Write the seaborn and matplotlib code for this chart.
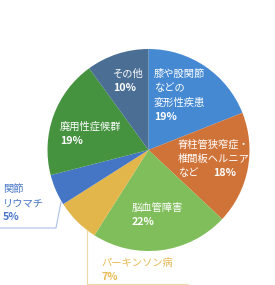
import matplotlib
matplotlib.use("Agg")
import matplotlib.pyplot as plt
import seaborn as sns

categories = ["膝や股関節などの変形性疾患", "脊柱管狭窄症・椎間板ヘルニアなど", "脳血管障害",
              "パーキンソン病", "関節リウマチ", "廃用性症候群", "その他"]
values = [19, 18, 22, 7, 5, 19, 10]
pct_labels = ["19%", "18%", "22%", "7%", "5%", "19%", "10%"]
colors = ["#4589D3", "#D07338", "#80BE5B", "#E3B64B", "#4575C5", "#45923F", "#4A6E94"]

sns.set_theme(style="white")
plt.rcParams['font.family'] = ['Noto Sans CJK JP', 'DejaVu Sans']

W, H = 275, 285
fig = plt.figure(figsize=(W / 100, H / 100), dpi=100)
ax = fig.add_axes([0, 0, 1, 1])
ax.set_xlim(0, W)
ax.set_ylim(0, H)
ax.set_aspect('equal')
ax.axis('off')

ax.pie(values, colors=colors, startangle=90, counterclock=False,
       center=(148.5, H - 150), radius=101,
       wedgeprops=dict(linewidth=0), frame=True)
ax.set_xlim(0, W)
ax.set_ylim(0, H)
ax.axis('off')

FS = 7.4
LS = 14.2

def Y(y):
    return H - y

def label(x, y, lines, pct, color="white", pct_inline_x=None):
    for i, ln in enumerate(lines):
        ax.text(x, Y(y + i * LS), ln, color=color, fontsize=FS, ha='left', va='center')
    if pct_inline_x is not None:
        ax.text(pct_inline_x, Y(y + (len(lines) - 1) * LS), pct, color=color,
                fontsize=FS + 0.3, fontweight='bold', ha='left', va='center')
    else:
        ax.text(x, Y(y + len(lines) * LS), pct, color=color,
                fontsize=FS + 0.3, fontweight='bold', ha='left', va='center')

label(154, 74, ["膝や股関節", "などの", "変形性疾患"], pct_labels[0])
label(178, 145, ["脊柱管狭窄症・", "椎間板ヘルニア", "など"], pct_labels[1], pct_inline_x=213)
label(132, 208, [categories[2]], pct_labels[2])
label(60, 127, [categories[5]], pct_labels[5])
label(113, 74, [categories[6]], pct_labels[6])

# outside labels with leader lines
ax.plot([61, 56, 0], [Y(202), Y(228), Y(228)], color="#A9BFE6", lw=0.8)
label(3, 189, ["関節", "リウマチ"], pct_labels[4], color="#4A78C8")
ax.plot([87, 87, 188], [Y(230), Y(284), Y(284)], color="#EED9A6", lw=0.8)
label(101, 263, [categories[3]], pct_labels[3], color="#E6BA55")

fig.savefig("out.png", dpi=100)
